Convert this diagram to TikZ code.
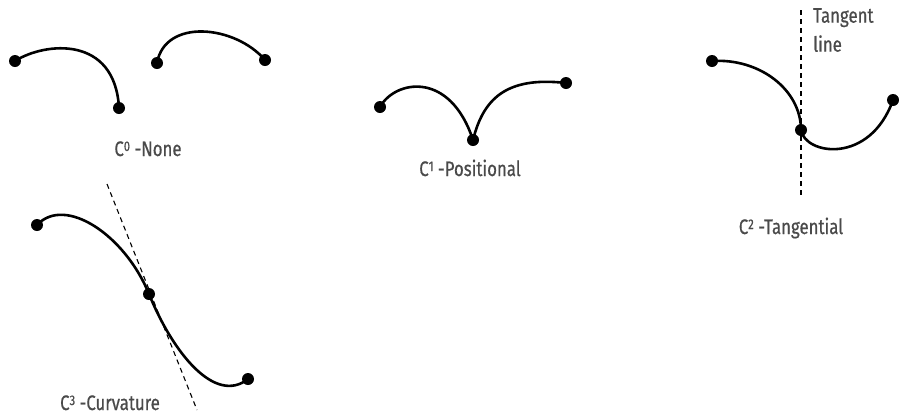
\documentclass[tikz,border=0pt]{standalone}
\usepackage{fontspec}
\setmainfont{Fira Sans}[FakeStretch=0.8,FakeBold=0.6]
\definecolor{inkgray}{HTML}{4A4A4A}
\newcommand{\contsup}[1]{\raisebox{5pt}{\fontsize{14}{14}\selectfont #1}}
\tikzset{
  curve/.style={line width=2.6pt,black},
  knot/.style={circle,fill=black,inner sep=0pt,minimum size=12pt},
  tangent/.style={line width=1.1pt,dash pattern=on 5pt off 4pt},
  caption/.style={font=\fontsize{21}{29}\selectfont,text=inkgray,inner sep=0pt,anchor=base}
}
\begin{document}
\begin{tikzpicture}[x=1pt,y=-1pt]
  \useasboundingbox (0,0) rectangle (899,416);
  % C0 -- no continuity
  \node[knot] (a1) at (15,61) {};
  \node[knot] (a2) at (119,108) {};
  \node[knot] (a3) at (157,63) {};
  \node[knot] (a4) at (265,60) {};
  \draw[curve] (a1.center) .. controls (45,42) and (115,35) .. (a2.center);
  \draw[curve] (a3.center) .. controls (165,18) and (235,25) .. (a4.center);
  \node[caption] (capA) at (148,156) {C\contsup{0} -None};

  % C1 -- positional
  \node[knot] (b1) at (380,107) {};
  \node[knot] (b2) at (473,140) {};
  \node[knot] (b3) at (566,83) {};
  \draw[curve] (b1.center) .. controls (395,80) and (450,70) .. (b2.center);
  \draw[curve] (b2.center) .. controls (483,100) and (505,76) .. (b3.center);
  \node[caption] (capB) at (470,176) {C\contsup{1} -Positional};

  % C2 -- tangential
  \node[knot] (c1) at (712,61) {};
  \node[knot] (c2) at (801,130) {};
  \node[knot] (c3) at (893,100) {};
  \coordinate (ctop) at (801,10);
  \coordinate (cbot) at (801,197);
  \draw[tangent] (ctop) -- (cbot);
  \draw[curve] (c1.center) .. controls (760,58) and (801,90) .. (c2.center);
  \draw[curve] (c2.center) .. controls (805,155) and (870,165) .. (c3.center);
  \node[caption,align=left,anchor=north west] (tline) at (813,8) {Tangent\\line};
  \node[caption] (capC) at (791,234) {C\contsup{2} -Tangential};

  % C3 -- curvature
  \node[knot] (d1) at (37,225) {};
  \node[knot] (d2) at (149,294) {};
  \node[knot] (d3) at (248,379) {};
  \coordinate (dtop) at (107,184);
  \coordinate (dbot) at (197,410);
  \draw[tangent] (dtop) -- (dbot);
  \draw[curve] (d1.center) .. controls (65,195) and (125,235) .. (d2.center);
  \draw[curve] (d2.center) .. controls (173,353) and (215,405) .. (d3.center);
  \node[caption] (capD) at (110,410) {C\contsup{3} -Curvature};
\end{tikzpicture}
\end{document}
